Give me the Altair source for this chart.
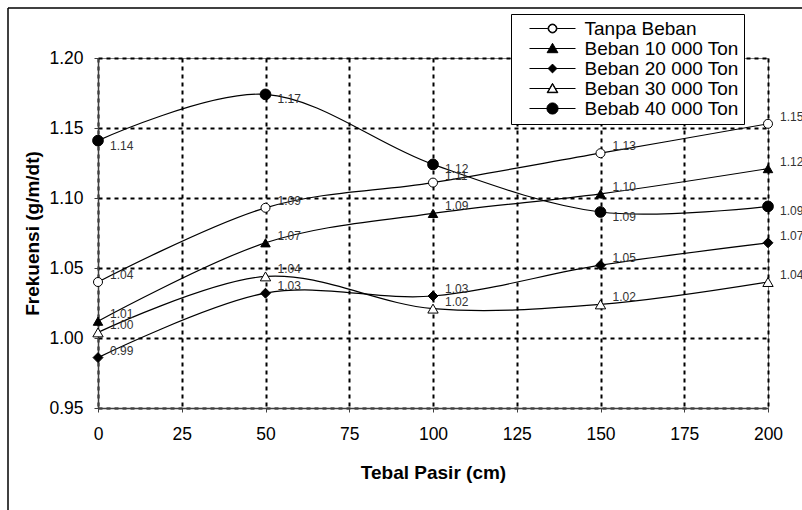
import altair as alt
import pandas as pd

# ---------------- data ----------------
x_values = [0, 50, 100, 150, 200]
series_names = ["Tanpa Beban", "Beban 10 000 Ton", "Beban 20 000 Ton",
                "Beban 30 000 Ton", "Bebab 40 000 Ton"]
tanpa_beban = [1.040, 1.093, 1.111, 1.132, 1.153]
beban_10000 = [1.012, 1.068, 1.089, 1.103, 1.121]
beban_20000 = [0.986, 1.032, 1.030, 1.052, 1.068]
beban_30000 = [1.004, 1.044, 1.021, 1.024, 1.040]
bebab_40000 = [1.141, 1.174, 1.124, 1.090, 1.094]
x_ticks = [0, 25, 50, 75, 100, 125, 150, 175, 200]
y_ticks = [0.95, 1.00, 1.05, 1.10, 1.15, 1.20]

rows = []
for name, vals in zip(series_names, [tanpa_beban, beban_10000, beban_20000,
                                     beban_30000, bebab_40000]):
    for xv, v in zip(x_values, vals):
        rows.append({"series": name, "tebal": xv, "frek": v})
df = pd.DataFrame(rows)

FONT = "Liberation Sans"

# ---------------- styles ----------------
marker_shapes = ["circle", "triangle-up", "diamond", "triangle-up", "circle"]
marker_fills = ["white", "black", "black", "white", "black"]
marker_sizes = [81, 115, 60, 115, 121]

# legend symbols: line + marker (custom paths, 1 unit = 4 px with symbolSize 64)
legend_paths = [
    "M-5.75,0H-1.15M1.15,0H5.75M1.12,0A1.12,1.12,0,1,1,-1.12,0A1.12,1.12,0,1,1,1.12,0ZM0.95,0A0.95,0.95,0,1,0,-0.95,0A0.95,0.95,0,1,0,0.95,0Z",
    "M-5.75,0H5.75M0,-1.3L1.35,1.05L-1.35,1.05Z",
    "M-5.75,0H5.75M0,-1.1L1.1,0L0,1.1L-1.1,0Z",
    "M-5.75,0H-0.72M0.72,0H5.75M0,-1.3L1.35,1.05L-1.35,1.05ZM0,-1.05L-1.13,0.92L1.13,0.92Z",
    "M-5.75,0H5.75M1.4,0A1.4,1.4,0,1,1,-1.4,0A1.4,1.4,0,1,1,1.4,0Z",
]

x_enc = alt.X("tebal:Q", scale=alt.Scale(domain=[0, 200], nice=False),
              axis=alt.Axis(values=x_ticks, format="d", title="Tebal Pasir (cm)",
                            labelPadding=13, titlePadding=21, labelFlush=False))
y_enc = alt.Y("frek:Q", scale=alt.Scale(domain=[0.95, 1.20], nice=False, zero=False),
              axis=alt.Axis(values=y_ticks, format=".2f", title="Frekuensi (g/m/dt)",
                            labelPadding=11, titlePadding=6))

base = alt.Chart(df)

lines = base.mark_line(interpolate="cardinal", color="black", strokeWidth=1.2).encode(
    x=x_enc, y=y_enc, detail="series:N")

points = base.mark_point(filled=True, stroke="black", strokeWidth=1, opacity=1).encode(
    x=x_enc, y=y_enc,
    shape=alt.Shape("series:N", scale=alt.Scale(domain=series_names, range=marker_shapes), legend=None),
    fill=alt.Fill("series:N", scale=alt.Scale(domain=series_names, range=marker_fills), legend=None),
    size=alt.Size("series:O", scale=alt.Scale(domain=series_names, range=marker_sizes), legend=None),
)

labels_up = base.transform_filter(alt.datum.series != "Bebab 40 000 Ton").mark_text(
    align="left", baseline="middle", dx=12, dy=-7, fontSize=12, font=FONT, color="#333333"
).encode(x=x_enc, y=y_enc, text=alt.Text("frek:Q", format=".2f"))

labels_down = base.transform_filter(alt.datum.series == "Bebab 40 000 Ton").mark_text(
    align="left", baseline="middle", dx=12, dy=5, fontSize=12, font=FONT, color="#333333"
).encode(x=x_enc, y=y_enc, text=alt.Text("frek:Q", format=".2f"))

legend_layer = base.transform_filter("false").mark_point(
    filled=True, color="black", fill="black", stroke="black", strokeWidth=1, opacity=1
).encode(
    shape=alt.Shape("series:N",
                    scale=alt.Scale(domain=series_names, range=legend_paths),
                    legend=alt.Legend(orient="none", legendX=413, legendY=-44, title=None,
                                      fillColor="white", strokeColor="black", padding=5,
                                      labelFont=FONT, labelFontSize=19, labelColor="black",
                                      symbolSize=64, symbolOffset=27, labelOffset=22.5,
                                      rowPadding=-8, symbolStrokeWidth=1))
)

frame_data = alt.Data(values=[{"a": 1}])
frame_left = alt.Chart(frame_data).mark_rule(color="black", strokeWidth=1.5).encode(
    x=alt.value(-90), y=alt.value(-50), y2=alt.value(500))
frame_top = alt.Chart(frame_data).mark_rule(color="black", strokeWidth=1.5).encode(
    x=alt.value(-90), x2=alt.value(760), y=alt.value(-50))

chart = alt.layer(
    frame_left, frame_top, lines, points, labels_up, labels_down, legend_layer
).resolve_scale(shape="independent").properties(
    width=670, height=350,
    padding={"left": 98, "top": 58, "right": 34, "bottom": 102},
    autosize=alt.AutoSizeParams(type="none"),
    background="white",
).configure_view(
    stroke="#808080", strokeWidth=1
).configure_axis(
    grid=True, gridColor="black", gridDash=[4, 4], gridWidth=2,
    domainColor="#404040", domainWidth=1.5, tickColor="#404040", tickSize=4, tickWidth=1,
    labelFont=FONT, labelFontSize=17.5, labelColor="black",
    titleFont=FONT, titleFontSize=19, titleFontWeight="bold", titleColor="black",
).configure_legend(
    strokeWidth=1, cornerRadius=0
)

chart.save("out.html", embed_options={"renderer": "svg", "actions": False})
